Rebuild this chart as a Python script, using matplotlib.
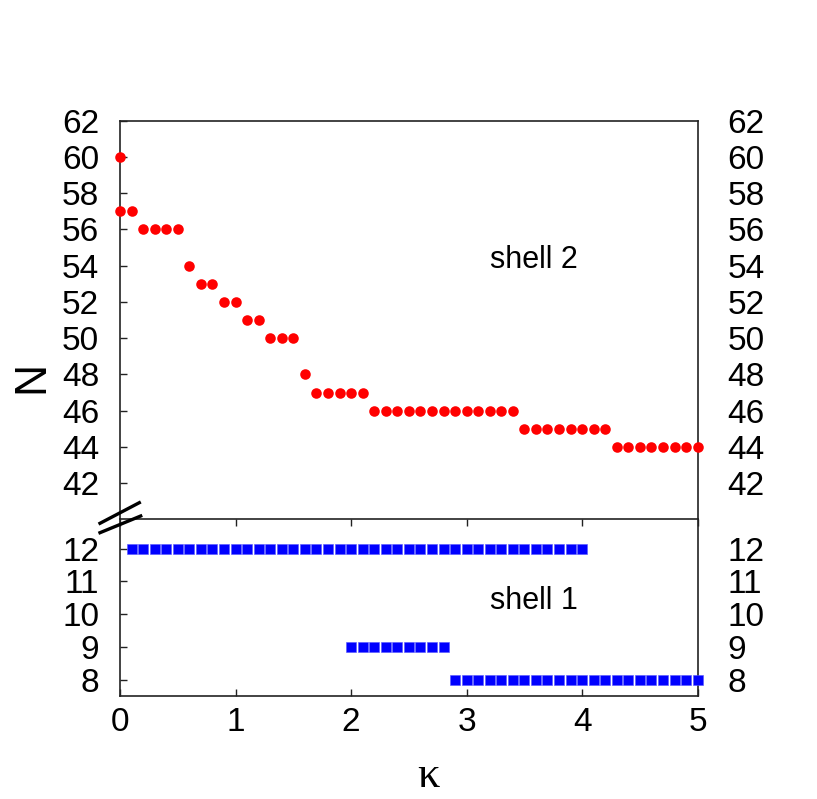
import matplotlib
matplotlib.use("Agg")
import matplotlib.pyplot as plt
from matplotlib.lines import Line2D

plt.rcParams['font.family'] = ['Liberation Sans', 'DejaVu Sans']

# shell 2 (upper panel): kappa and N
shell2_kappa = [0.0, 0.0, 0.1, 0.2, 0.3, 0.4, 0.5, 0.6, 0.7, 0.8, 0.9, 1.0,
                1.1, 1.2, 1.3, 1.4, 1.5, 1.6, 1.7, 1.8, 1.9, 2.0, 2.1,
                2.2, 2.3, 2.4, 2.5, 2.6, 2.7, 2.8, 2.9, 3.0, 3.1, 3.2, 3.3, 3.4,
                3.5, 3.6, 3.7, 3.8, 3.9, 4.0, 4.1, 4.2,
                4.3, 4.4, 4.5, 4.6, 4.7, 4.8, 4.9, 5.0]
shell2_N = [60, 57, 57, 56, 56, 56, 56, 54, 53, 53, 52, 52,
            51, 51, 50, 50, 50, 48, 47, 47, 47, 47, 47,
            46, 46, 46, 46, 46, 46, 46, 46, 46, 46, 46, 46, 46,
            45, 45, 45, 45, 45, 45, 45, 45,
            44, 44, 44, 44, 44, 44, 44, 44]

# shell 1 (lower panel): kappa and N
shell1_kappa = [0.1, 0.2, 0.3, 0.4, 0.5, 0.6, 0.7, 0.8, 0.9, 1.0,
                1.1, 1.2, 1.3, 1.4, 1.5, 1.6, 1.7, 1.8, 1.9, 2.0,
                2.1, 2.2, 2.3, 2.4, 2.5, 2.6, 2.7, 2.8, 2.9, 3.0,
                3.1, 3.2, 3.3, 3.4, 3.5, 3.6, 3.7, 3.8, 3.9, 4.0,
                2.0, 2.1, 2.2, 2.3, 2.4, 2.5, 2.6, 2.7, 2.8,
                2.9, 3.0, 3.1, 3.2, 3.3, 3.4, 3.5, 3.6, 3.7, 3.8, 3.9,
                4.0, 4.1, 4.2, 4.3, 4.4, 4.5, 4.6, 4.7, 4.8, 4.9, 5.0]
shell1_N = [12] * 40 + [9] * 9 + [8] * 22

top_yticks = [42, 44, 46, 48, 50, 52, 54, 56, 58, 60, 62]
bot_yticks = [8, 9, 10, 11, 12]
xticks = [0, 1, 2, 3, 4, 5]

W_PX, H_PX = 817, 799
fig = plt.figure(figsize=(W_PX / 100, H_PX / 100), dpi=100)

left = 120 / W_PX
width = 577.7 / W_PX
ax_top = fig.add_axes([left, 1 - 519.3 / H_PX, width, (519.3 - 120.8) / H_PX])
ax_bot = fig.add_axes([left, 1 - 696 / H_PX, width, (696 - 519.3) / H_PX])

spine_col = '#222222'
tick_fs = 24


def style_axis(ax, yticks, ylim, xticks_on):
    ax.set_xlim(0, 5)
    ax.set_ylim(*ylim)
    ax.set_yticks(yticks)
    ax.set_xticks(xticks)
    for s in ax.spines.values():
        s.set_color(spine_col)
        s.set_linewidth(1.2)
    ax.tick_params(axis='y', direction='in', length=5, width=1, color=spine_col,
                   left=True, right=True, labelleft=True, labelright=False,
                   labelsize=tick_fs, pad=15)
    if xticks_on:
        ax.tick_params(axis='x', direction='in', length=5, width=1, color=spine_col,
                       top=True, bottom=True, labelsize=tick_fs, pad=8)
    else:
        ax.tick_params(axis='x', top=False, bottom=False, labelbottom=False)
    # right-hand labels via twin axis
    tw = ax.twinx()
    tw.set_ylim(*ylim)
    tw.set_yticks(yticks)
    tw.tick_params(axis='y', direction='in', length=0, labelsize=tick_fs, pad=21.5)
    for s in tw.spines.values():
        s.set_visible(False)
    return tw


style_axis(ax_top, top_yticks, (40, 62), False)
style_axis(ax_bot, bot_yticks, (7.5, 12.9), True)
ax_top.spines['bottom'].set_visible(False)

ax_top.plot(shell2_kappa, shell2_N, 'o', color='#ff0000', markersize=7.6,
            markeredgewidth=0, clip_on=False, zorder=5)
ax_bot.plot(shell1_kappa, shell1_N, 's', color='#0000ff', markersize=6.6,
            markeredgecolor='#5555ff', markeredgewidth=0.4, clip_on=False, zorder=5)

ax_top.text(3.58, 53.86, 'shell 2', fontsize=22, ha='center', va='baseline')
ax_bot.text(3.58, 10.16, 'shell 1', fontsize=22, ha='center', va='baseline')

# axis labels
fig.text(32 / W_PX, 1 - 377 / H_PX, 'N', fontsize=32, rotation=90,
         ha='center', va='center')
fig.text(428 / W_PX, 3 / H_PX, 'κ', fontsize=32, ha='center', va='bottom',
         family=['Liberation Serif', 'DejaVu Serif'])

# axis break marks
def px(x, y):
    return x / W_PX, 1 - y / H_PX

for (x0, y0), (x1, y1) in [((100, 532.7), (140.7, 516)), ((100, 523.3), (139.3, 502.7))]:
    (fx0, fy0), (fx1, fy1) = px(x0, y0), px(x1, y1)
    fig.add_artist(Line2D([fx0, fx1], [fy0, fy1], transform=fig.transFigure,
                          color='black', linewidth=2.4, zorder=10))

fig.savefig('out.png', dpi=100)
